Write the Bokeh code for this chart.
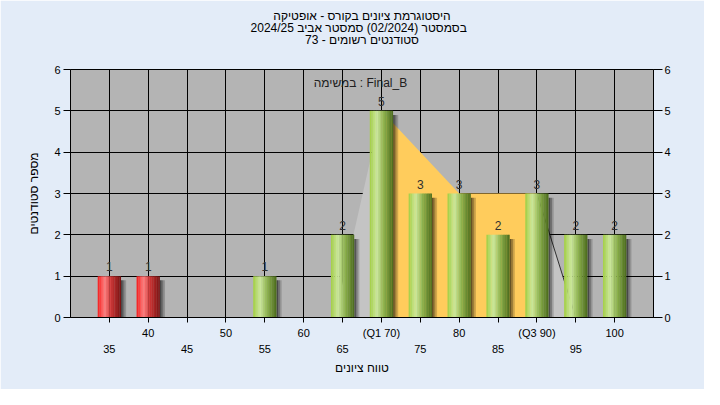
from bokeh.plotting import figure
from bokeh.models import (LinearAxis, FixedTicker, Label, Title, ColumnDataSource)
from bokeh.core.properties import value
from bokeh.embed import file_html
from bokeh.resources import INLINE

# ---------------- data ----------------
scores = [35, 40, 55, 65, 70, 75, 80, 85, 90, 95, 100]
counts = [1, 1, 1, 2, 5, 3, 3, 2, 3, 2, 2]
pass_mark = 50

q1 = 70
q3 = 90
curve_x = [64, 70, 80, 90, 95]
curve_y = [0, 5, 3, 3, 0]

row1_ticks = [40, 50, 60, 70, 80, 90, 100]
row1_labels = ["40", "50", "60", "(Q1 70)", "80", "(Q3 90)", "100"]
row2_ticks = [35, 45, 55, 65, 75, 85, 95]
row2_labels = ["35", "45", "55", "65", "75", "85", "95"]
y_ticks = [0, 1, 2, 3, 4, 5, 6]

title_lines = ["היסטוגרמת ציונים בקורס - אופטיקה",
               "בסמסטר  (02/2024)  סמסטר אביב 2024/25",
               "סטודנטים רשומים - 73"]
task_label = "במשימה : Final_B"
x_title = "טווח ציונים"
y_title = "מספר סטודנטים"

FONT = "Liberation Sans"

# ---------------- figure ----------------
p = figure(width=704, height=389, x_range=(30, 105), y_range=(0, 6),
           output_backend="svg", toolbar_location=None,
           min_border_left=70, min_border_right=51,
           min_border_top=69, min_border_bottom=72)
p.background_fill_color = "#B4B4B4"
p.border_fill_color = "#E3ECF8"
p.outline_line_color = "black"

p.xgrid.ticker = FixedTicker(ticks=list(range(35, 101, 5)))
p.ygrid.ticker = FixedTicker(ticks=y_ticks)
for g in (p.xgrid, p.ygrid):
    g.grid_line_color = "black"
    g.grid_line_width = 1
    g.grid_line_alpha = 1.0

# ---------------- quartile area ----------------
left_px, left_py = [], []
mid_px, mid_py = [], []
right_px, right_py = [], []
for cx, cy in zip(curve_x, curve_y):
    if cx <= q1:
        left_px.append(cx); left_py.append(cy)
    if q1 <= cx <= q3:
        mid_px.append(cx); mid_py.append(cy)
    if cx >= q3:
        right_px.append(cx); right_py.append(cy)
p.patch(left_px + [q1], left_py + [0], fill_color="#C4C4C4", line_color=None)
p.patch(mid_px + [q3, q1], mid_py + [0, 0], fill_color="#FFCC5C", line_color=None)
p.patch(right_px + [q3], right_py + [0], fill_color="#C4C4C4", line_color=None)
p.line(right_px, right_py, line_color="#303030", line_width=1)

# ---------------- bars ----------------
half = 1.5
n_strips = 14

def hex2rgb(h):
    h = h.lstrip("#")
    return tuple(int(h[i:i + 2], 16) for i in (0, 2, 4))

def grad(stops, t):
    for (t0, c0), (t1, c1) in zip(stops, stops[1:]):
        if t0 <= t <= t1:
            f = (t - t0) / (t1 - t0) if t1 > t0 else 0
            a, b = hex2rgb(c0), hex2rgb(c1)
            return "#%02x%02x%02x" % tuple(int(round(a[i] + (b[i] - a[i]) * f)) for i in range(3))
    return stops[-1][1]

green_stops = [(0.0, "#A2CE42"), (0.3, "#CDE99E"), (0.6, "#8DB24E"), (1.0, "#4A6A1C")]
red_stops = [(0.0, "#F41C1C"), (0.3, "#FF7E7E"), (0.6, "#C83232"), (1.0, "#741010")]

# shadows
sh = dict(left=[], right=[], top=[], alpha=[])
sh_w = 0.22
sh_alpha = [0.6, 0.38, 0.18]
for s, c in zip(scores, counts):
    for j, a in enumerate(sh_alpha):
        sh["left"].append(s + half + j * sh_w)
        sh["right"].append(s + half + (j + 1) * sh_w)
        sh["top"].append(c - 0.1)
        sh["alpha"].append(a)
p.quad(left="left", right="right", top="top", bottom=0, source=ColumnDataSource(sh),
       fill_color="black", fill_alpha="alpha", line_color=None)

bars = dict(left=[], right=[], top=[], color=[])
w = 2 * half / n_strips
for s, c in zip(scores, counts):
    stops = red_stops if s < pass_mark else green_stops
    for k in range(n_strips):
        t = (k + 0.5) / n_strips
        bars["left"].append(s - half + k * w)
        bars["right"].append(min(s - half + (k + 1.15) * w, s + half))
        bars["top"].append(c)
        bars["color"].append(grad(stops, t))
p.quad(left="left", right="right", top="top", bottom=0, source=ColumnDataSource(bars),
       fill_color="color", line_color=None)

# value labels
p.text(x=scores, y=counts, text=[str(c) for c in counts], text_align="center",
       text_baseline="bottom", y_offset=-5, text_font=value(FONT),
       text_font_size="12px", text_color="#303030")

# ---------------- axes ----------------
def style_axis(ax):
    ax.axis_line_color = "black"
    ax.major_tick_line_color = "black"
    ax.minor_tick_line_color = "black"
    ax.major_label_text_font = FONT
    ax.major_label_text_font_size = "11px"
    ax.major_label_text_color = "black"
    ax.axis_label_text_font = FONT
    ax.axis_label_text_font_size = "12px"
    ax.axis_label_text_font_style = "normal"
    ax.axis_label_text_color = "black"

xa = p.xaxis[0]
xa.ticker = FixedTicker(ticks=row1_ticks, minor_ticks=row2_ticks)
xa.major_label_overrides = {t: l for t, l in zip(row1_ticks, row1_labels)}
style_axis(xa)
xa.major_tick_out = 5
xa.major_tick_in = 0
xa.minor_tick_out = 5
xa.minor_tick_in = 0
xa.major_label_standoff = 4

xb = LinearAxis(ticker=FixedTicker(ticks=row2_ticks))
xb.major_label_overrides = {t: l for t, l in zip(row2_ticks, row2_labels)}
style_axis(xb)
xb.axis_line_color = None
xb.major_tick_line_color = None
xb.minor_tick_line_color = None
xb.major_tick_out = 0
xb.major_label_standoff = 3
xb.axis_label = x_title
xb.axis_label_standoff = 5
p.add_layout(xb, "below")

ya = p.yaxis[0]
ya.ticker = FixedTicker(ticks=y_ticks)
style_axis(ya)
ya.major_tick_out = 7
ya.major_tick_in = 0
ya.minor_tick_line_color = None
ya.major_label_standoff = 3
ya.axis_label = y_title
ya.axis_label_standoff = 10

yr = LinearAxis(ticker=FixedTicker(ticks=y_ticks))
style_axis(yr)
yr.major_tick_out = 9
yr.major_tick_in = 0
yr.minor_tick_line_color = None
yr.major_label_standoff = 2
p.add_layout(yr, "right")

# ---------------- titles (closest to the frame first) ----------------
# spacer between the frame and the title block
p.add_layout(Title(text=" ", text_font_size="1px", standoff=22), "above")
for line in reversed(title_lines):
    t = Title(text=line, align="center", text_font=FONT, text_font_size="12px",
              text_font_style="normal", text_color="black", standoff=-4, offset=0)
    p.add_layout(t, "above")

p.add_layout(Label(x=67.3, y=5.68, text=task_label, text_align="center",
                   text_baseline="middle", text_font=FONT, text_font_size="12px",
                   text_color="#202020"))

open("out.html", "w").write(file_html(p, INLINE))
